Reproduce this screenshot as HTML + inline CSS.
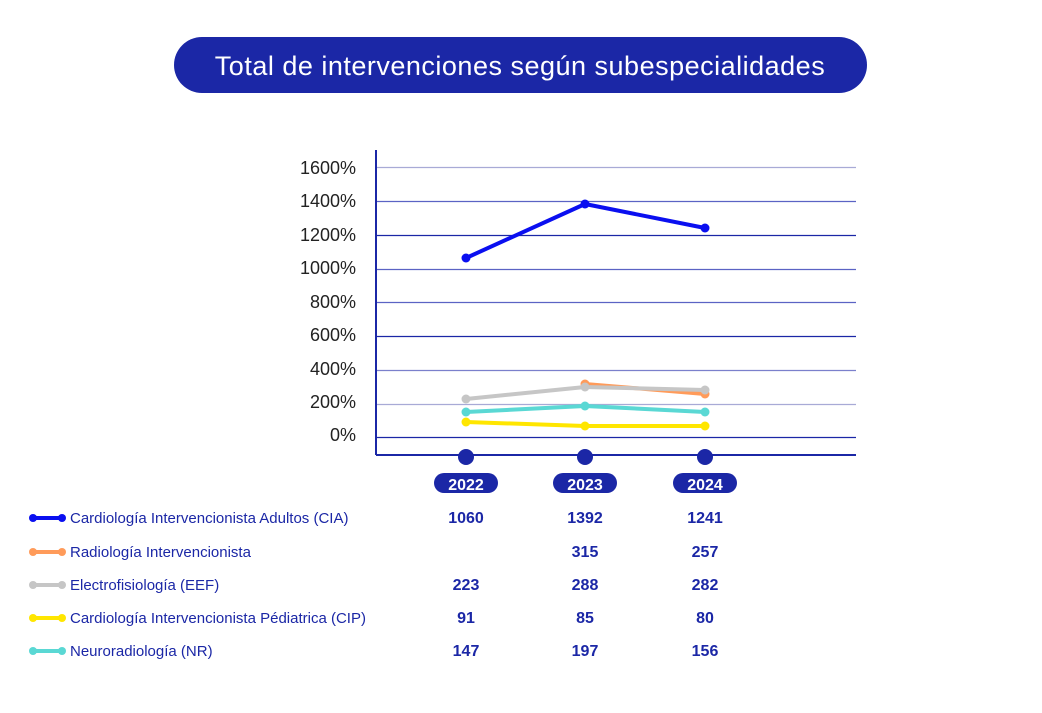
<!DOCTYPE html>
<html><head><meta charset="utf-8"><style>
body{margin:0;background:#fff;width:1042px;height:708px;overflow:hidden;font-family:"Liberation Sans",sans-serif}
</style></head><body>
<svg width="1042" height="708" xmlns="http://www.w3.org/2000/svg" font-family="Liberation Sans, sans-serif">
<rect x="174" y="37" width="693" height="56" rx="28" fill="#1b27a6"/>
<text x="520" y="75" text-anchor="middle" fill="#fff" font-size="27" letter-spacing="0.5">Total de intervenciones según subespecialidades</text>
<g stroke-width="1.2">
<line x1="376" x2="856" y1="167.5" y2="167.5" stroke="#a8aad6"/>
<line x1="376" x2="856" y1="201.5" y2="201.5" stroke="#5b63c4"/>
<line x1="376" x2="856" y1="235.5" y2="235.5" stroke="#1b27a6"/>
<line x1="376" x2="856" y1="269.5" y2="269.5" stroke="#5b63c4"/>
<line x1="376" x2="856" y1="302.5" y2="302.5" stroke="#5b63c4"/>
<line x1="376" x2="856" y1="336.5" y2="336.5" stroke="#1b27a6"/>
<line x1="376" x2="856" y1="370.5" y2="370.5" stroke="#7b80cc"/>
<line x1="376" x2="856" y1="404.5" y2="404.5" stroke="#a8aad6"/>
<line x1="376" x2="856" y1="437.5" y2="437.5" stroke="#1b27a6"/>
</g>
<line x1="376" y1="150" x2="376" y2="455" stroke="#1b27a6" stroke-width="2"/>
<line x1="376" y1="455" x2="856" y2="455" stroke="#1b27a6" stroke-width="2"/>
<g font-size="18" fill="#222" text-anchor="end">
<text x="356" y="174">1600%</text><text x="356" y="207">1400%</text><text x="356" y="241">1200%</text>
<text x="356" y="274">1000%</text><text x="356" y="308">800%</text><text x="356" y="341">600%</text>
<text x="356" y="375">400%</text><text x="356" y="408">200%</text><text x="356" y="441">0%</text>
</g>
<g fill="none" stroke-width="4" stroke-linejoin="round">
<polyline points="466,422 585,426 705,426" stroke="#ffe600"/>
<polyline points="466,412 585,406 705,412" stroke="#5ad8d4"/>
<polyline points="585,384 705,394" stroke="#ff9b5a"/>
<polyline points="466,399 585,387 705,390" stroke="#c6c6c6"/>
<polyline points="466,258 585,204 705,228" stroke="#0a0ff0"/>
</g>
<g fill="#ffe600"><circle cx="466" cy="422" r="4.5"/><circle cx="585" cy="426" r="4.5"/><circle cx="705" cy="426" r="4.5"/></g>
<g fill="#5ad8d4"><circle cx="466" cy="412" r="4.5"/><circle cx="585" cy="406" r="4.5"/><circle cx="705" cy="412" r="4.5"/></g>
<g fill="#ff9b5a"><circle cx="585" cy="384" r="4.5"/><circle cx="705" cy="394" r="4.5"/></g>
<g fill="#c6c6c6"><circle cx="466" cy="399" r="4.5"/><circle cx="585" cy="387" r="4.5"/><circle cx="705" cy="390" r="4.5"/></g>
<g fill="#0a0ff0"><circle cx="466" cy="258" r="4.5"/><circle cx="585" cy="204" r="4.5"/><circle cx="705" cy="228" r="4.5"/></g>
<g fill="#1b27a6">
<circle cx="466" cy="457" r="8"/><circle cx="585" cy="457" r="8"/><circle cx="705" cy="457" r="8"/>
<rect x="434" y="473" width="64" height="20" rx="10"/><rect x="553" y="473" width="64" height="20" rx="10"/><rect x="673" y="473" width="64" height="20" rx="10"/>
</g>
<g fill="#fff" font-size="16" font-weight="bold" text-anchor="middle">
<text x="466" y="490">2022</text><text x="585" y="490">2023</text><text x="705" y="490">2024</text>
</g>
<g stroke-width="4" stroke-linecap="round">
<line x1="33" x2="62" y1="518" y2="518" stroke="#0a0ff0"/>
<line x1="33" x2="62" y1="552" y2="552" stroke="#ff9b5a"/>
<line x1="33" x2="62" y1="585" y2="585" stroke="#c6c6c6"/>
<line x1="33" x2="62" y1="618" y2="618" stroke="#ffe600"/>
<line x1="33" x2="62" y1="651" y2="651" stroke="#5ad8d4"/>
</g>
<g fill="#0a0ff0"><circle cx="33" cy="518" r="4"/><circle cx="62" cy="518" r="4"/></g>
<g fill="#ff9b5a"><circle cx="33" cy="552" r="4"/><circle cx="62" cy="552" r="4"/></g>
<g fill="#c6c6c6"><circle cx="33" cy="585" r="4"/><circle cx="62" cy="585" r="4"/></g>
<g fill="#ffe600"><circle cx="33" cy="618" r="4"/><circle cx="62" cy="618" r="4"/></g>
<g fill="#5ad8d4"><circle cx="33" cy="651" r="4"/><circle cx="62" cy="651" r="4"/></g>
<g fill="#1b27a6" font-size="15">
<text x="70" y="523">Cardiología Intervencionista Adultos (CIA)</text>
<text x="70" y="557">Radiología Intervencionista</text>
<text x="70" y="590">Electrofisiología (EEF)</text>
<text x="70" y="623">Cardiología Intervencionista Pédiatrica (CIP)</text>
<text x="70" y="656">Neuroradiología (NR)</text>
</g>
<g fill="#1b27a6" font-size="16" font-weight="bold" text-anchor="middle">
<text x="466" y="523">1060</text><text x="585" y="523">1392</text><text x="705" y="523">1241</text>
<text x="585" y="557">315</text><text x="705" y="557">257</text>
<text x="466" y="590">223</text><text x="585" y="590">288</text><text x="705" y="590">282</text>
<text x="466" y="623">91</text><text x="585" y="623">85</text><text x="705" y="623">80</text>
<text x="466" y="656">147</text><text x="585" y="656">197</text><text x="705" y="656">156</text>
</g>
</svg>
</body></html>
